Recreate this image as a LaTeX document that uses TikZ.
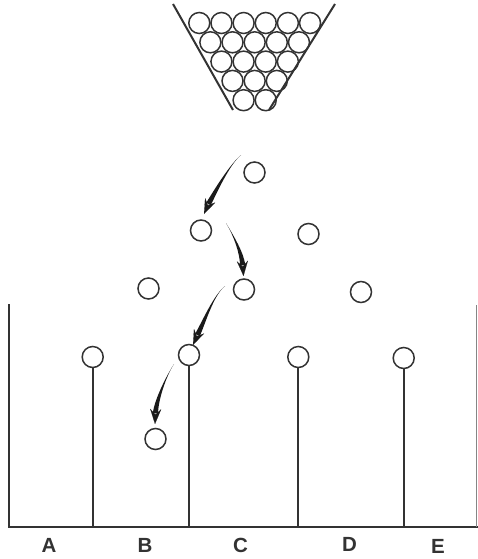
\documentclass[tikz,border=0pt]{standalone}
\usepackage{fontspec}
\setmainfont{Liberation Sans}
\usetikzlibrary{arrows.meta,calc}
\definecolor{ink}{HTML}{333333}
\definecolor{arrowink}{HTML}{1A1A1A}
\tikzset{
  ball/.style={circle, draw=ink, line width=1.5pt, minimum size=21pt, inner sep=0pt},
  wall/.style={draw=ink, line width=2pt},
  binlabel/.style={text=ink, font=\fontsize{20.5}{22}\selectfont\bfseries, inner sep=0pt},
}
% tapered curved arrow: start, control 1, control 2, body end, tip
\newcommand\flightpath[5]{%
  \fill[arrowink] (#1) .. controls (#2) and ($(#3)!1.9pt!90:(#4)$) .. ($(#4)!2.6pt!-90:(#3)$)
    -- ($(#4)!2.6pt!90:(#3)$) .. controls ($(#3)!1.9pt!-90:(#4)$) and (#2) .. (#1) -- cycle;
  \draw[arrowink, line width=0.1pt, -{Stealth[length=15pt,width=11pt,inset=5.5pt]}] (#4) -- (#5);
}
\begin{document}
\begin{tikzpicture}[x=1pt, y=-1pt]
\useasboundingbox (0,0) rectangle (478,559);

% funnel
\draw[wall] (173,4) -- (233,110);
\draw[wall] (335,4) -- (269,110);
\foreach \r in {0,...,4} {
  \pgfmathtruncatemacro\n{5-\r}
  \foreach \i in {0,...,\n} {
    \node[ball] (f\r\i) at ({199.3+11.07*\r+22.15*\i}, {23+19.3*\r}) {};
  }
}

% falling balls
\node[ball] (b1) at (254.5,172.5) {};
\node[ball] (b2) at (201,230.5) {};
\node[ball] (b3) at (308.5,234) {};
\node[ball] (b4) at (148.5,288.5) {};
\node[ball] (b5) at (244,289.5) {};
\node[ball] (b6) at (361,292) {};
\node[ball] (b7) at (155.5,439) {};

% pegs
\node[ball] (p1) at (92.7,357) {};
\node[ball] (p2) at (189,355) {};
\node[ball] (p3) at (298.3,357) {};
\node[ball] (p4) at (403.7,358) {};

% bins
\coordinate (bl) at (8.5,527);
\coordinate (br) at (478,527);
\coordinate (lw) at (8.5,304);
\coordinate (rw) at (476.5,305);
\draw[wall] (lw) -- (bl) -- (br);
\draw[draw=ink!60, line width=1pt] (rw) -- (rw |- br);
\foreach \p in {p1,p2,p3,p4}
  \draw[wall] (\p.south) -- (\p.south |- bl);

% trajectory arrows
\coordinate (s1) at (241,155);   \coordinate (c11) at (229.5,164.6);
\coordinate (c12) at (214.8,192.5); \coordinate (e1) at (208.5,204); \coordinate (t1) at (204,214);
\coordinate (s2) at (226,223);   \coordinate (c21) at (233.7,235.9);
\coordinate (c22) at (241.5,252); \coordinate (e2) at (242.7,265); \coordinate (t2) at (243.5,276);
\coordinate (s3) at (225,286);   \coordinate (c31) at (213.3,295.3);
\coordinate (c32) at (203.5,323.4); \coordinate (e3) at (197.4,335); \coordinate (t3) at (193,345);
\coordinate (s4) at (174,364);   \coordinate (c41) at (165.9,376.6);
\coordinate (c42) at (156.3,400); \coordinate (e4) at (155.5,413); \coordinate (t4) at (155,424);
\flightpath{s1}{c11}{c12}{e1}{t1}
\flightpath{s2}{c21}{c22}{e2}{t2}
\flightpath{s3}{c31}{c32}{e3}{t3}
\flightpath{s4}{c41}{c42}{e4}{t4}

% bin labels
\node[binlabel] (la) at (49,545) {A};
\node[binlabel] (lb) at (145,545) {B};
\node[binlabel] (lc) at (240.5,545.5) {C};
\node[binlabel] (ld) at (349.5,544.5) {D};
\node[binlabel] (le) at (438,546) {E};
\end{tikzpicture}
\end{document}
